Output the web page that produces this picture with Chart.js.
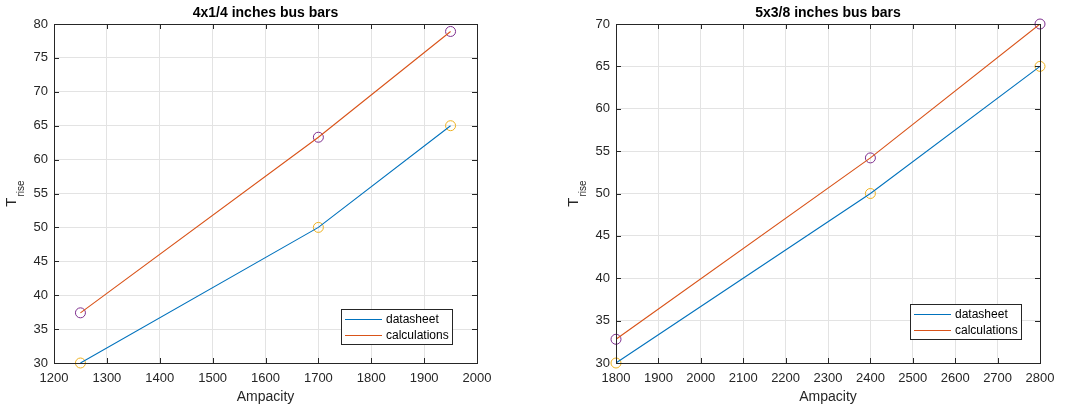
<!DOCTYPE html>
<html>
<head>
<meta charset="utf-8">
<script src="https://cdn.jsdelivr.net/npm/chart.js@4.4.0/dist/chart.umd.min.js"></script>
<style>
  html, body { margin: 0; padding: 0; background: #fff; }
  #wrap { position: relative; width: 1065px; height: 410px; }
  canvas { position: absolute; top: 0; }
</style>
</head>
<body>
<div id="wrap">
  <canvas id="leftChart" width="532" height="410" style="left:0px"></canvas>
  <canvas id="rightChart" width="532" height="410" style="left:533px"></canvas>
</div>
<script>
// left plot: 4x1/4 inches
const leftAmpacity = [1250, 1700, 1950];
const leftDatasheet = [30, 50, 65];
const leftCalculations = [37.4, 63.3, 78.9];
const leftXTicks = [1200, 2000, 100];
const leftYTicks = [30, 80, 5];

// right plot: 5x3/8 inches
const rightAmpacity = [1800, 2400, 2800];
const rightDatasheet = [30, 50, 65];
const rightCalculations = [32.8, 54.2, 70];
const rightXTicks = [1800, 2800, 100];
const rightYTicks = [30, 70, 5];

const legendLabels = ["datasheet", "calculations"];
const FONT = "'Liberation Sans', Arial, Helvetica, sans-serif";
const AXIS_COLOR = "#262626";

function toPoints(xs, ys) {
  return xs.map((x, i) => ({ x: x, y: ys[i] }));
}

// MATLAB-like frame, inward ticks, title, y label, legend
const matlabPlugin = {
  id: "matlab",
  afterDatasetsDraw(chart, args, opts) {
    const { ctx, chartArea: a, scales } = chart;
    ctx.save();
    ctx.strokeStyle = AXIS_COLOR;
    ctx.lineWidth = 1;
    ctx.beginPath();
    scales.x.ticks.forEach((t) => {
      const px = Math.round(scales.x.getPixelForValue(t.value)) + 0.5;
      ctx.moveTo(px, a.bottom);
      ctx.lineTo(px, a.bottom - 5);
      ctx.moveTo(px, a.top);
      ctx.lineTo(px, a.top + 5);
    });
    scales.y.ticks.forEach((t) => {
      const py = Math.round(scales.y.getPixelForValue(t.value)) + 0.5;
      ctx.moveTo(a.left, py);
      ctx.lineTo(a.left + 5, py);
      ctx.moveTo(a.right, py);
      ctx.lineTo(a.right - 5, py);
    });
    ctx.stroke();
    ctx.strokeRect(Math.round(a.left) + 0.5, Math.round(a.top) + 0.5,
      Math.round(a.right - a.left), Math.round(a.bottom - a.top));
    ctx.restore();
  },
  afterDraw(chart, args, opts) {
    const { ctx, chartArea: a } = chart;
    ctx.save();
    ctx.fillStyle = "#000";
    // title
    ctx.font = "bold 14px " + FONT;
    ctx.textAlign = "center";
    ctx.textBaseline = "middle";
    ctx.fillText(opts.title, (a.left + a.right) / 2, 13);

    // x label
    ctx.fillStyle = AXIS_COLOR;
    ctx.font = "14px " + FONT;
    ctx.fillText("Ampacity", (a.left + a.right) / 2, 397);

    // y label T_rise
    ctx.textAlign = "left";
    ctx.textBaseline = "alphabetic";
    ctx.font = "15px " + FONT;
    const wT = ctx.measureText("T").width;
    ctx.font = "10px " + FONT;
    const wR = ctx.measureText("rise").width;
    const total = wT + 1 + wR;
    ctx.translate(a.left - 38, (a.top + a.bottom) / 2);
    ctx.rotate(-Math.PI / 2);
    ctx.font = "15px " + FONT;
    ctx.fillText("T", -total / 2, 0);
    ctx.font = "10px " + FONT;
    ctx.fillText("rise", -total / 2 + wT + 1, 8);
    ctx.setTransform(1, 0, 0, 1, 0, 0);

    // legend
    ctx.font = "12px " + FONT;
    const items = chart.data.datasets.filter((d) => legendLabels.includes(d.label));
    let tw = 0;
    items.forEach((d) => { tw = Math.max(tw, ctx.measureText(d.label).width); });
    const bw = Math.round(4 + 37 + 4 + tw + 3);
    const bh = 35;
    const bx = Math.round(a.right - opts.legendRight - bw);
    const by = Math.round(a.bottom - opts.legendBottom - bh);
    ctx.fillStyle = "#fff";
    ctx.fillRect(bx, by, bw, bh);
    ctx.strokeStyle = AXIS_COLOR;
    ctx.lineWidth = 1;
    ctx.strokeRect(bx + 0.5, by + 0.5, bw, bh);
    ctx.textBaseline = "middle";
    items.forEach((d, i) => {
      const cy = by + 10 + i * 16 + 0.5;
      ctx.strokeStyle = d.borderColor;
      ctx.beginPath();
      ctx.moveTo(bx + 4, cy);
      ctx.lineTo(bx + 41, cy);
      ctx.stroke();
      ctx.fillStyle = "#000";
      ctx.fillText(d.label, bx + 45, cy);
    });
    ctx.restore();
  }
};

function makeChart(id, xs, ds, calc, xt, yt, yWidth, rightPad, title, legendRight, legendBottom) {
  const lineStyle = { showLine: true, pointRadius: 0, borderWidth: 1.1, fill: false, tension: 0 };
  const markStyle = { showLine: false, pointRadius: 5, pointHoverRadius: 5, pointBorderWidth: 1,
    pointBackgroundColor: "rgba(0,0,0,0)", clip: false };
  return new Chart(document.getElementById(id), {
    type: "scatter",
    data: {
      datasets: [
        Object.assign({ label: "datasheet", data: toPoints(xs, ds), borderColor: "#0072BD" }, lineStyle),
        Object.assign({ label: "calculations", data: toPoints(xs, calc), borderColor: "#D95319" }, lineStyle),
        Object.assign({ label: "datasheet markers", data: toPoints(xs, ds), borderColor: "#EDB120", pointBorderColor: "#EDB120" }, markStyle),
        Object.assign({ label: "calculation markers", data: toPoints(xs, calc), borderColor: "#7E2F8E", pointBorderColor: "#7E2F8E" }, markStyle)
      ]
    },
    options: {
      responsive: false,
      animation: false,
      devicePixelRatio: 1,
      events: [],
      layout: { autoPadding: false, padding: { left: 0, right: rightPad, top: 24, bottom: 0 } },
      plugins: {
        legend: { display: false },
        tooltip: { enabled: false },
        title: { display: false },
        matlab: { title: title, legendRight: legendRight, legendBottom: legendBottom }
      },
      scales: {
        x: {
          type: "linear",
          min: xt[0],
          max: xt[1],
          afterFit: (s) => { s.height = 47; },
          ticks: { stepSize: xt[2], autoSkip: false, maxRotation: 0, padding: 8,
            callback: (v) => String(v),
            color: AXIS_COLOR, font: { family: FONT, size: 13 } },
          grid: { color: "#e3e3e3", drawTicks: false },
          border: { display: false }
        },
        y: {
          type: "linear",
          min: yt[0],
          max: yt[1],
          afterFit: (s) => { s.width = yWidth; },
          ticks: { stepSize: yt[2], autoSkip: false, padding: 6,
            callback: (v) => String(v),
            color: AXIS_COLOR, font: { family: FONT, size: 13 } },
          grid: { color: "#e3e3e3", drawTicks: false },
          border: { display: false }
        }
      }
    },
    plugins: [matlabPlugin]
  });
}

makeChart("leftChart", leftAmpacity, leftDatasheet, leftCalculations, leftXTicks, leftYTicks,
  54, 55, "4x1/4 inches bus bars", 25, 19);
makeChart("rightChart", rightAmpacity, rightDatasheet, rightCalculations, rightXTicks, rightYTicks,
  83, 25, "5x3/8 inches bus bars", 19, 24);
</script>
</body>
</html>
